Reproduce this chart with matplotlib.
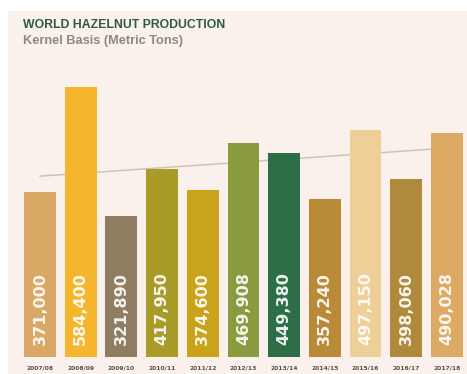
import matplotlib
matplotlib.use("Agg")
import matplotlib.pyplot as plt

# World hazelnut production, kernel basis (metric tons)
seasons = ["2007/08", "2008/09", "2009/10", "2010/11", "2011/12", "2012/13",
           "2013/14", "2014/15", "2015/16", "2016/17", "2017/18"]
production = [371000, 584400, 321890, 417950, 374600, 469908,
              449380, 357240, 497150, 398060, 490028]
bar_colors = ["#d9a865", "#f5b52c", "#8f7d62", "#a99b28", "#c9a31a", "#8a9a3e",
              "#2b6e48", "#b98a38", "#edcf97", "#b08a3c", "#dcaa62"]
# trend line end values (first and last season)
trend_values = [403000, 460000]

bg = "#faf1ed"
W, H = 467, 374

fig = plt.figure(figsize=(W / 100, H / 100), dpi=100)
fig.patch.set_facecolor("white")

# cream panel behind everything
panel = fig.add_axes([8 / W, 0, 1 - 8 / W, 1 - 11 / H])
panel.set_facecolor(bg)
panel.set_xticks([])
panel.set_yticks([])
for s in panel.spines.values():
    s.set_visible(False)

ax = fig.add_axes([19.6 / W, 17 / H, 447.7 / W, 307 / H])
ax.set_facecolor("none")
x = list(range(len(seasons)))
ax.bar(x, production, width=0.78, color=bar_colors, zorder=2)
ax.plot([x[0], x[-1]], trend_values, color="#cfc2b8", lw=1.1, zorder=1)

ax.set_xlim(-0.5, len(seasons) - 0.5)
ax.set_ylim(35000, 659600)
for s in ax.spines.values():
    s.set_visible(False)
ax.set_yticks([])
ax.set_xticks(x)
ax.set_xticklabels(seasons, fontsize=4.3, fontweight="bold", color="#5a5048")
ax.tick_params(axis="x", length=0, pad=6)

for xi, v in zip(x, production):
    ax.annotate(f"{v:,}", (xi, 35000), xytext=(0, 8.5), textcoords="offset points",
                rotation=90, ha="center", va="bottom", fontsize=11.5,
                fontweight="bold", color="white", alpha=0.9,
                family="DejaVu Sans", zorder=3)

fig.text(23 / W, 1 - 25 / H, "WORLD HAZELNUT PRODUCTION", fontsize=8.8,
         fontweight="bold", color="#2f5a40", va="center", ha="left",
         family="Liberation Sans")
fig.text(23 / W, 1 - 41 / H, "Kernel Basis (Metric Tons)", fontsize=9.2,
         fontweight="bold", color="#8c8a7a", va="center", ha="left",
         family="Liberation Sans")

fig.savefig("out.png", dpi=100, facecolor=fig.get_facecolor())
